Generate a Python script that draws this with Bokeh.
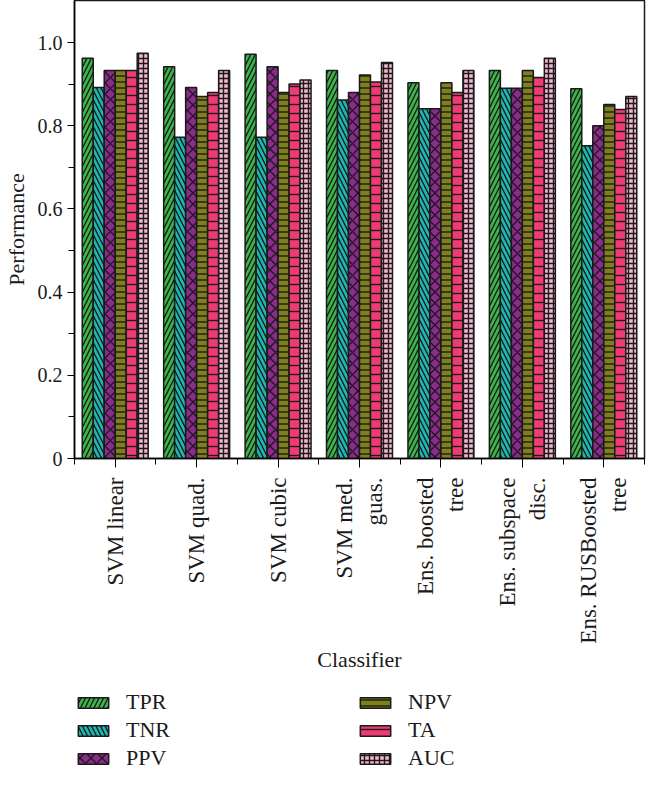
import math
from bokeh.plotting import figure
from bokeh.layouts import column
from bokeh.models import ColumnDataSource, FixedTicker, Legend, LegendItem, Range1d
from bokeh.transform import dodge
from bokeh.embed import file_html
from bokeh.resources import INLINE

classifiers = ["SVM linear", "SVM quad.", "SVM cubic", "SVM med.\nguas.",
               "Ens. boosted\ntree", "Ens. subspace\ndisc.", "Ens. RUSBoosted\ntree"]
tpr = [0.962, 0.942, 0.972, 0.933, 0.903, 0.933, 0.889]
tnr = [0.892, 0.772, 0.772, 0.862, 0.841, 0.890, 0.752]
ppv = [0.933, 0.892, 0.942, 0.880, 0.841, 0.890, 0.800]
npv = [0.933, 0.870, 0.880, 0.922, 0.903, 0.933, 0.851]
ta = [0.933, 0.880, 0.900, 0.905, 0.880, 0.916, 0.839]
auc = [0.974, 0.933, 0.910, 0.952, 0.933, 0.962, 0.870]
series_names = ["TPR", "TNR", "PPV", "NPV", "TA", "AUC"]
y_ticks = [0, 0.2, 0.4, 0.6, 0.8, 1.0]
y_tick_labels = ["0", "0.2", "0.4", "0.6", "0.8", "1.0"]

xs = [i + 0.5 for i in range(len(classifiers))]
src = ColumnDataSource(dict(x=xs, TPR=tpr, TNR=tnr, PPV=ppv, NPV=npv, TA=ta, AUC=auc))

FONT = "Liberation Serif"
INK = "#1a1a1a"

p = figure(frame_width=570, frame_height=458, output_backend="svg", toolbar_location=None,
           x_range=Range1d(0, 7), y_range=Range1d(0, 1.101),
           min_border_left=68, min_border_right=2, min_border_top=0, min_border_bottom=222)

styles = [
    ("TPR", "#3cb54b", "right_diagonal_line", 9),
    ("TNR", "#1db8b2", "left_diagonal_line", 9),
    ("PPV", "#8d2a8d", "diagonal_cross", 11),
    ("NPV", "#7f7f1c", "horizontal_line", 6),
    ("TA", "#ef3b73", "horizontal_line", 9),
    ("AUC", "#f3b5d0", "cross", 5),
]
bw = 0.135


def add_bars(fig):
    rs = []
    for i, (name, color, pat, sc) in enumerate(styles):
        off = (i - 2.5) * bw
        r = fig.vbar(x=dodge("x", off), top=name, width=bw, source=src,
                     fill_color=color, line_color=INK, line_width=1.5,
                     hatch_pattern=pat, hatch_color=INK, hatch_weight=1.4, hatch_scale=sc)
        rs.append((name, r))
    return rs


add_bars(p)

p.xgrid.visible = False
p.ygrid.visible = False
p.outline_line_color = INK
p.outline_line_width = 1.5

xa = p.xaxis[0]
xa.ticker = FixedTicker(ticks=xs, minor_ticks=list(range(8)))
xa.major_label_overrides = {x: c for x, c in zip(xs, classifiers)}
xa.major_label_orientation = math.pi / 2
xa.major_label_standoff = 10
xa.major_tick_out = 9
xa.major_tick_in = 0
xa.minor_tick_out = 6
xa.minor_tick_in = 0
xa.axis_line_width = 1.5
xa.major_label_text_font = FONT
xa.major_label_text_font_size = "23px"
xa.major_label_text_color = INK
xa.axis_label = "Classifier"
xa.axis_label_text_font = FONT
xa.axis_label_text_font_style = "normal"
xa.axis_label_text_font_size = "22px"
xa.axis_label_text_color = INK
xa.axis_label_standoff = 0

ya = p.yaxis[0]
ya.ticker = FixedTicker(ticks=y_ticks, minor_ticks=[0.1, 0.3, 0.5, 0.7, 0.9])
ya.major_label_overrides = {t: l for t, l in zip(y_ticks, y_tick_labels)}
ya.major_tick_out = 7
ya.major_tick_in = 0
ya.minor_tick_out = 6
ya.minor_tick_in = 0
ya.axis_line_width = 1.5
ya.major_label_text_font = FONT
ya.major_label_text_font_size = "20px"
ya.major_label_text_color = INK
ya.axis_label = "Performance"
ya.axis_label_text_font = FONT
ya.axis_label_text_font_style = "normal"
ya.axis_label_text_font_size = "22px"
ya.axis_label_text_color = INK
ya.axis_label_standoff = 6

# legend panel: an axis-free figure whose hidden bars only feed the legend keys
lg = figure(width=640, height=100, output_backend="svg", toolbar_location=None,
            x_axis_type=None, y_axis_type=None,
            x_range=Range1d(40, 41), y_range=Range1d(40, 41),
            min_border_left=0, min_border_right=0, min_border_top=0, min_border_bottom=0)
lg.xgrid.visible = False
lg.ygrid.visible = False
lg.outline_line_color = None
lg_renderers = add_bars(lg)
for _, r in lg_renderers:
    r.visible = False

legend = Legend(items=[LegendItem(label=n, renderers=[r]) for n, r in lg_renderers],
                location=(0, 9), orientation="vertical", nrows=3,
                glyph_width=38, glyph_height=13, label_standoff=14, label_width=228,
                label_height=20, spacing=2, padding=0, margin=0,
                inactive_fill_alpha=0,
                border_line_color=None, background_fill_alpha=0,
                label_text_font=FONT, label_text_font_size="22px", label_text_color=INK)
lg.add_layout(legend, "center")

layout = column(p, lg, spacing=0)
open("out.html", "w").write(file_html(layout, INLINE))
